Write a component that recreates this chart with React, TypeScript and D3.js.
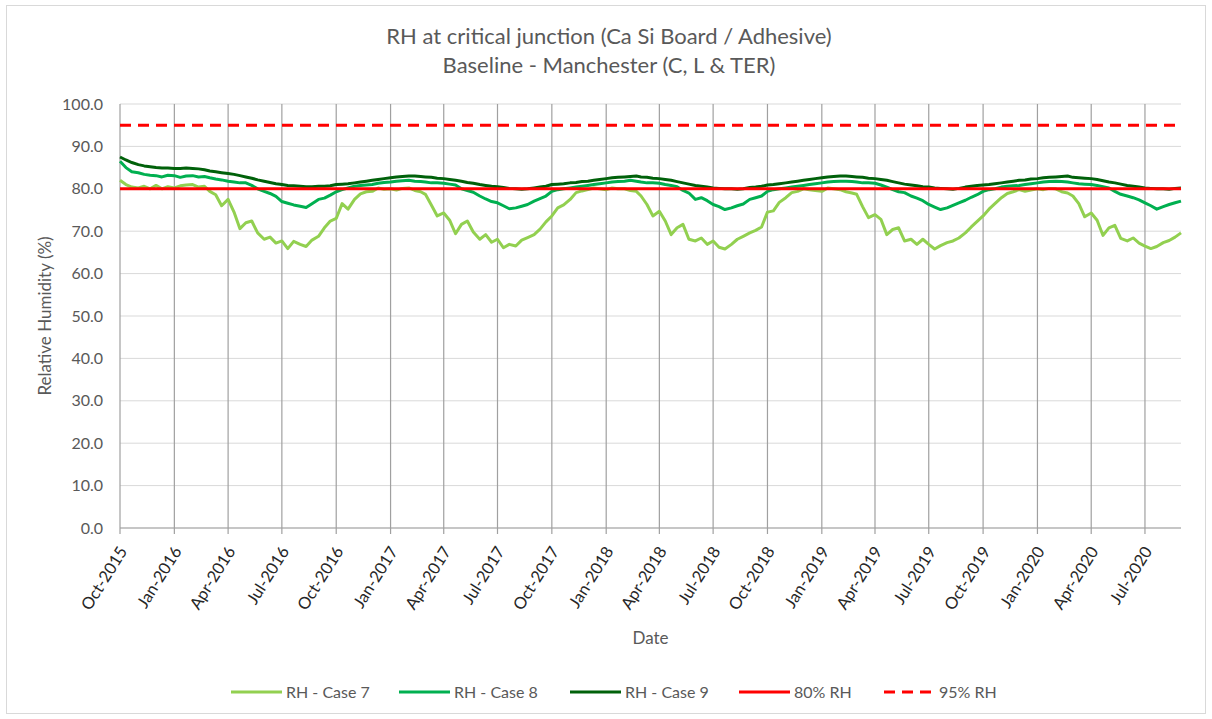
import React from "react";
import * as d3 from "d3";

// RH readings, sampled on the 1st, 11th and 21st of every month (Oct-2015 .. Aug-2020), last value = 31-Aug-2020
const case7 = [
  82.0, 81.0, 80.4, 80.2, 80.6, 80.0, 80.8, 80.0, 80.5,
  80.2, 80.7, 80.9, 81.0, 80.4, 80.6, 79.4, 78.6, 76.0, 77.5, 74.5, 70.6, 72.0, 72.4, 69.6,
  68.1, 68.6, 67.2, 67.7, 65.9, 67.6, 66.9, 66.4, 67.9, 68.8, 70.8, 72.4, 73.0, 76.5, 75.2,
  77.5, 78.8, 79.3, 79.4, 80.2, 79.9,
  80.0, 79.7, 80.1, 80.2, 79.6, 79.3, 78.7, 76.2, 73.6, 74.3, 72.6, 69.4, 71.6, 72.4, 69.8,
  68.1, 69.2, 67.4, 68.1, 66.1, 66.9, 66.5, 67.9, 68.5, 69.2, 70.5, 72.2, 73.6, 75.5, 76.2,
  77.5, 79.1, 79.5, 79.8, 80.2, 80.0,
  79.8, 80.2, 80.0, 80.0, 79.6, 79.4, 78.3, 76.3, 73.6, 74.7, 72.4, 69.2, 70.8, 71.6, 68.1,
  67.7, 68.4, 66.9, 67.7, 66.2, 65.8, 66.9, 68.1, 68.8, 69.6, 70.2, 71.0, 74.5, 74.8, 76.8,
  77.9, 79.1, 79.4, 80.0, 79.8, 79.6,
  79.4, 80.2, 80.0, 79.8, 79.3, 79.0, 78.7, 75.8, 73.2, 73.9, 72.8, 69.2, 70.4, 70.8, 67.7,
  68.1, 66.9, 68.1, 66.9, 65.8, 66.6, 67.3, 67.7, 68.4, 69.6, 71.0, 72.3, 73.6, 75.2, 76.5,
  77.9, 78.9, 79.3, 79.8, 79.4, 79.7,
  80.0, 79.8, 80.1, 80.0, 79.3, 79.0, 78.3, 76.5, 73.4, 74.3, 72.6, 69.0, 70.8, 71.4, 68.3,
  67.7, 68.4, 67.2, 66.5, 65.9, 66.4, 67.3, 67.8, 68.6,
  69.6,
];

const case8 = [
  86.5, 85.0, 84.0, 83.8, 83.4, 83.2, 83.1, 82.8, 83.2,
  83.1, 82.7, 83.0, 83.1, 82.8, 82.9, 82.6, 82.3, 82.1, 81.8, 81.6, 81.4, 81.4, 80.8, 80.0,
  79.4, 78.9, 78.2, 77.0, 76.6, 76.2, 75.9, 75.6, 76.5, 77.5, 77.8, 78.5, 79.3, 79.8, 80.2,
  80.6, 80.8, 80.9, 81.0, 81.3, 81.5,
  81.6, 81.8, 81.9, 82.0, 81.8, 81.7, 81.6, 81.4, 81.4, 81.3, 81.1, 80.9, 80.0, 79.6, 79.2,
  78.3, 77.6, 77.0, 76.7, 76.0, 75.3, 75.5, 75.9, 76.3, 77.1, 77.7, 78.3, 79.4, 79.8, 80.0,
  80.2, 80.4, 80.6, 80.8, 81.0, 81.2,
  81.4, 81.6, 81.7, 81.8, 82.0, 81.8, 81.6, 81.4, 81.4, 81.3, 81.0, 80.8, 80.5, 79.6, 79.0,
  77.5, 77.9, 77.2, 76.3, 75.8, 75.1, 75.5, 76.0, 76.4, 77.5, 77.9, 78.3, 79.4, 79.8, 80.0,
  80.2, 80.4, 80.6, 80.8, 81.0, 81.2,
  81.4, 81.6, 81.7, 81.8, 81.8, 81.7, 81.6, 81.4, 81.4, 81.3, 80.9, 80.4, 79.8, 79.3, 79.1,
  78.3, 77.8, 77.2, 76.3, 75.7, 75.1, 75.5, 76.1, 76.7, 77.3, 78.0, 78.6, 79.4, 79.8, 80.0,
  80.4, 80.6, 80.7, 80.8, 81.0, 81.2,
  81.4, 81.6, 81.7, 81.8, 81.7, 81.6, 81.4, 81.2, 81.1, 81.0, 80.8, 80.5, 80.2, 79.4, 78.7,
  78.3, 77.9, 77.4, 76.7, 76.0, 75.2, 75.8, 76.3, 76.7,
  77.1,
];

const case9 = [
  87.5, 86.8, 86.2, 85.7, 85.4, 85.2, 85.0, 84.9, 84.9,
  84.8, 84.8, 84.9, 84.8, 84.7, 84.5, 84.2, 84.0, 83.8, 83.6, 83.4, 83.1, 82.8, 82.5, 82.1,
  81.8, 81.5, 81.2, 81.0, 80.8, 80.7, 80.6, 80.5, 80.5, 80.6, 80.6, 80.7, 81.0, 81.1, 81.2,
  81.4, 81.6, 81.8, 82.0, 82.2, 82.4,
  82.6, 82.8, 82.9, 83.0, 83.0, 82.9, 82.8, 82.7, 82.5, 82.4, 82.2, 82.0, 81.8, 81.5, 81.3,
  81.0, 80.8, 80.6, 80.5, 80.3, 80.1, 80.0, 79.9, 80.0, 80.2, 80.4, 80.6, 81.0, 81.1, 81.2,
  81.4, 81.5, 81.7, 81.8, 82.0, 82.2,
  82.4, 82.6, 82.7, 82.8, 82.9, 83.0, 82.8, 82.7, 82.5, 82.4, 82.2, 82.0, 81.7, 81.4, 81.1,
  80.8, 80.6, 80.4, 80.2, 80.1, 80.0, 80.0, 79.9, 80.0, 80.3, 80.4, 80.6, 80.9, 81.0, 81.2,
  81.4, 81.6, 81.8, 82.0, 82.2, 82.4,
  82.6, 82.8, 82.9, 83.0, 83.0, 82.9, 82.8, 82.7, 82.5, 82.4, 82.2, 82.0, 81.7, 81.4, 81.1,
  80.9, 80.7, 80.5, 80.4, 80.2, 80.1, 80.0, 79.9, 80.1, 80.4, 80.6, 80.8, 80.9, 81.0, 81.2,
  81.4, 81.6, 81.8, 82.0, 82.1, 82.3,
  82.4, 82.6, 82.7, 82.8, 82.9, 83.0, 82.7, 82.6, 82.5, 82.4, 82.2, 81.9, 81.6, 81.4, 81.1,
  80.8, 80.6, 80.4, 80.2, 80.1, 80.0, 80.0, 79.9, 80.1,
  80.2,
];

const thresholds = [80, 95];
const sampleDays = [1, 11, 21];
const titleLines = ["RH at critical junction (Ca Si Board / Adhesive)", "Baseline - Manchester (C, L & TER)"];

const legendItems = [
  { label: "RH - Case 7", color: "#92d050", dash: "" },
  { label: "RH - Case 8", color: "#00b050", dash: "" },
  { label: "RH - Case 9", color: "#00610a", dash: "" },
  { label: "80% RH", color: "#ff0000", dash: "" },
  { label: "95% RH", color: "#ff0000", dash: "11 7" },
];
const legendX = [231, 399, 570, 739, 884];

const start = new Date(2015, 9, 1);
const end = new Date(2020, 7, 31);

// sample dates
const dates: Date[] = [];
d3.timeMonth.range(start, new Date(2020, 8, 1)).forEach((m) => {
  sampleDays.forEach((d) => dates.push(new Date(m.getFullYear(), m.getMonth(), d)));
});
dates.push(end);

const W = 1212;
const H = 719;
const plot = { left: 120, right: 1181, top: 104, bottom: 528 };
const font = "Lato, 'Open Sans', sans-serif";

export default function App() {
  const x = d3.scaleTime().domain([start, end]).range([plot.left, plot.right]);
  const y = d3.scaleLinear().domain([0, 100]).range([plot.bottom, plot.top]);
  const xTicks = x.ticks(d3.timeMonth.every(3)!);
  const yTicks = y.ticks(10);
  const fmtX = d3.timeFormat("%b-%Y");
  const fmtY = d3.format(".1f");

  const line = d3
    .line<number>()
    .x((_, i) => x(dates[i]))
    .y((d) => y(d));

  const series = [
    { values: case7, color: legendItems[0].color },
    { values: case8, color: legendItems[1].color },
    { values: case9, color: legendItems[2].color },
  ];

  return (
    <svg width={W} height={H} style={{ position: "absolute", left: 0, top: 0, background: "#fff", fontFamily: font }}>
      <rect x={6.5} y={5.5} width={1199} height={708} fill="#fff" stroke="#d9d9d9" />

      {titleLines.map((t, i) => (
        <text key={t} x={609} y={44 + i * 29} textAnchor="middle" fontSize={22} fill="#595959">
          {t}
        </text>
      ))}

      {/* horizontal grid */}
      {yTicks.map((t) => (
        <line key={t} x1={plot.left} x2={plot.right} y1={y(t)} y2={y(t)} stroke="#d9d9d9" strokeWidth={1} />
      ))}
      {/* vertical grid + ticks */}
      {xTicks.map((t) => (
        <line key={+t} x1={x(t)} x2={x(t)} y1={plot.top} y2={plot.bottom + 6} stroke="#a0a0a0" strokeWidth={1.2} />
      ))}
      <line x1={plot.left} x2={plot.right} y1={plot.bottom} y2={plot.bottom} stroke="#a0a0a0" strokeWidth={1.2} />

      {yTicks.map((t) => (
        <text key={t} x={103} y={y(t)} dy="0.35em" textAnchor="end" fontSize={16} fill="#595959">
          {fmtY(t)}
        </text>
      ))}
      {xTicks.map((t) => (
        <text
          key={+t}
          transform={`translate(${x(t) + 3},${plot.bottom + 20}) rotate(-58)`}
          textAnchor="end"
          dy="0.35em"
          fontSize={16.5}
          fill="#262626"
        >
          {fmtX(t)}
        </text>
      ))}

      <text x={(plot.left + plot.right) / 2} y={644} textAnchor="middle" fontSize={17} fill="#595959">
        Date
      </text>
      <text
        transform={`translate(51,${(plot.top + plot.bottom) / 2}) rotate(-90)`}
        textAnchor="middle"
        fontSize={17}
        fill="#595959"
      >
        Relative Humidity (%)
      </text>

      {series.map((s, i) => (
        <path key={i} d={line(s.values) ?? ""} fill="none" stroke={s.color} strokeWidth={3} strokeLinejoin="round" />
      ))}
      {thresholds.map((v, i) => (
        <line
          key={v}
          x1={plot.left}
          x2={plot.right}
          y1={y(v)}
          y2={y(v)}
          stroke="#ff0000"
          strokeWidth={3}
          strokeDasharray={legendItems[3 + i].dash}
        />
      ))}

      {legendItems.map((it, i) => (
        <g key={it.label} transform={`translate(${legendX[i]},692)`}>
          <line x1={0} x2={51} y1={0} y2={0} stroke={it.color} strokeWidth={3} strokeDasharray={it.dash} />
          <text x={55} y={0} dy="0.35em" fontSize={16} fill="#595959">
            {it.label}
          </text>
        </g>
      ))}
    </svg>
  );
}
